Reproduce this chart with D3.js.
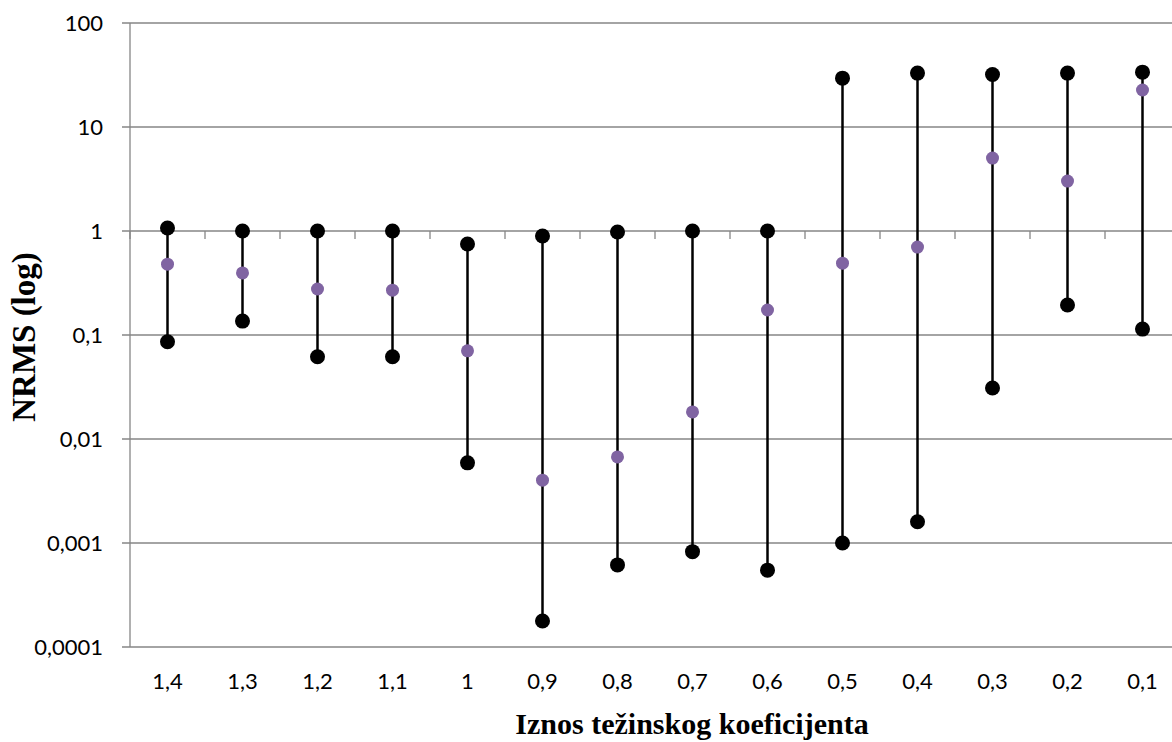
<!DOCTYPE html>
<html>
<head>
<meta charset="utf-8">
<script src="https://cdn.jsdelivr.net/npm/d3@7.9.0/dist/d3.min.js"></script>
<style>
  body { margin: 0; background: #fff; }
  svg { display: block; }
</style>
</head>
<body>
<svg id="chart" width="1172" height="742"></svg>
<script>
// tezinski koeficijent (categories)
const categories = ['1,4', '1,3', '1,2', '1,1', '1', '0,9', '0,8', '0,7', '0,6', '0,5', '0,4', '0,3', '0,2', '0,1'];
const highValues = [1.07, 1.0, 1.0, 1.0, 0.75, 0.895, 0.978, 1.0, 1.0, 29.5, 33, 32, 33, 33.7];
const midValues = [0.48, 0.395, 0.277, 0.27, 0.0705, 0.00402, 0.00672, 0.0182, 0.174, 0.49, 0.70, 5.03, 3.02, 22.7];
const lowValues = [0.086, 0.136, 0.0617, 0.0617, 0.0059, 0.000178, 0.000616, 0.000826, 0.000548, 0.001, 0.0016, 0.0309, 0.194, 0.114];
const yTicks = [0.0001, 0.001, 0.01, 0.1, 1, 10, 100];
const yTickLabels = ['0,0001', '0,001', '0,01', '0,1', '1', '10', '100'];

const svg = d3.select('#chart');
const plotL = 130, plotR = 1180, plotT = 23, plotB = 647;
const gridColor = '#868686';
const tickFont = 'Lato, sans-serif';
const titleFont = '"Liberation Serif", "Times New Roman", serif';

let x = d3.scaleBand().domain(categories).range([plotL, plotR]);
let y = d3.scaleLog().domain([0.0001, 100]).range([plotB, plotT]);

// horizontal gridlines + y tick marks
svg.selectAll('line.grid')
  .data(yTicks)
  .join('line')
  .attr('class', 'grid')
  .attr('x1', plotL - 8)
  .attr('x2', plotR)
  .attr('y1', d => y(d))
  .attr('y2', d => y(d))
  .attr('stroke', gridColor)
  .attr('stroke-width', 1.3);

// y axis line
svg.append('line')
  .attr('x1', plotL).attr('x2', plotL)
  .attr('y1', plotT).attr('y2', plotB)
  .attr('stroke', gridColor)
  .attr('stroke-width', 1.3);

// y labels
svg.selectAll('text.ylab')
  .data(yTicks)
  .join('text')
  .attr('class', 'ylab')
  .attr('x', plotL - 27)
  .attr('y', d => y(d))
  .attr('dy', '0.36em')
  .attr('text-anchor', 'end')
  .attr('font-family', tickFont)
  .attr('font-size', 22)
  .attr('fill', '#000')
  .text((d, i) => yTickLabels[i]);

// category axis crosses at 1, tick marks between categories
const boundaries = categories.map(c => x(c)).concat([plotR]);
svg.selectAll('line.xtick')
  .data(boundaries)
  .join('line')
  .attr('class', 'xtick')
  .attr('x1', d => d).attr('x2', d => d)
  .attr('y1', y(1)).attr('y2', y(1) + 8)
  .attr('stroke', gridColor)
  .attr('stroke-width', 1.3);

// x labels at the bottom
svg.selectAll('text.xlab')
  .data(categories)
  .join('text')
  .attr('class', 'xlab')
  .attr('x', d => x(d) + x.bandwidth() / 2)
  .attr('y', 689)
  .attr('text-anchor', 'middle')
  .attr('font-family', tickFont)
  .attr('font-size', 22)
  .attr('fill', '#000')
  .text(d => d);

// high-low lines
svg.selectAll('line.hl')
  .data(categories)
  .join('line')
  .attr('class', 'hl')
  .attr('x1', d => x(d) + x.bandwidth() / 2)
  .attr('x2', d => x(d) + x.bandwidth() / 2)
  .attr('y1', (d, i) => y(highValues[i]))
  .attr('y2', (d, i) => y(lowValues[i]))
  .attr('stroke', '#000')
  .attr('stroke-width', 2.5);

// markers
function drawDots(values, color, r) {
  svg.append('g')
    .selectAll('circle')
    .data(values)
    .join('circle')
    .attr('cx', (d, i) => x(categories[i]) + x.bandwidth() / 2)
    .attr('cy', d => y(d))
    .attr('r', r)
    .attr('fill', color);
}
drawDots(highValues, '#000', 7.5);
drawDots(lowValues, '#000', 7.5);
drawDots(midValues, '#8064A2', 6.5);

// axis titles
svg.append('text')
  .attr('transform', 'translate(35, 337) rotate(-90)')
  .attr('text-anchor', 'middle')
  .attr('font-family', titleFont)
  .attr('font-weight', 'bold')
  .attr('font-size', 33)
  .text('NRMS (log)');

svg.append('text')
  .attr('x', 692)
  .attr('y', 734)
  .attr('text-anchor', 'middle')
  .attr('font-family', titleFont)
  .attr('font-weight', 'bold')
  .attr('font-size', 30)
  .text('Iznos težinskog koeficijenta');
</script>
</body>
</html>
